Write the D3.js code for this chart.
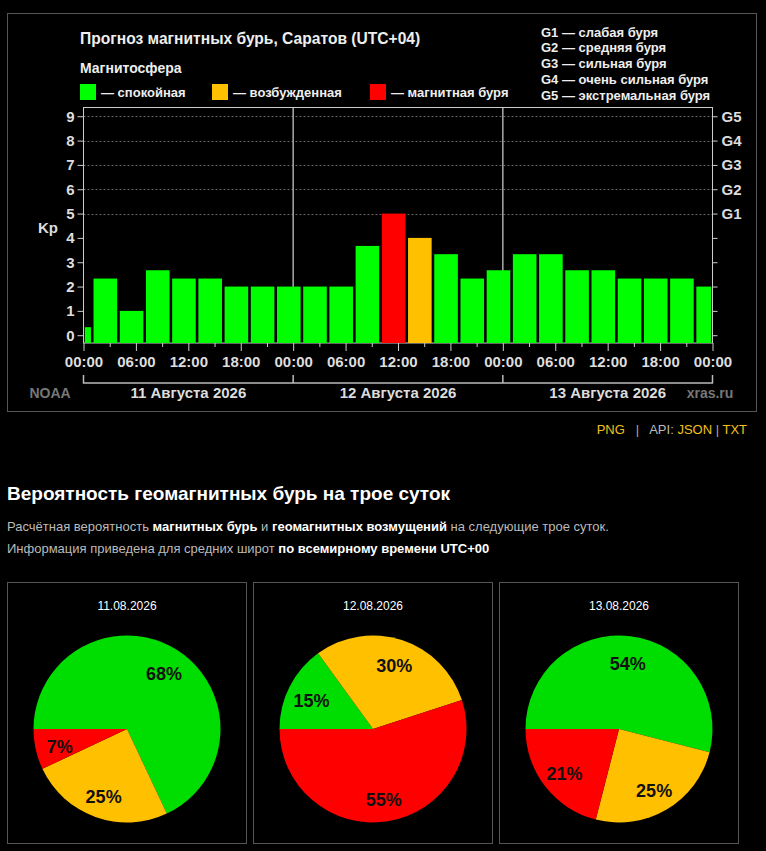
<!DOCTYPE html>
<html>
<head>
<meta charset="utf-8">
<script src="https://cdn.jsdelivr.net/npm/d3@7"></script>
<style>
  html, body { margin: 0; padding: 0; background: #000; }
  svg { display: block; }
</style>
</head>
<body>
<div id="page"></div>
<script>
// Прогноз Kp по трёхчасовым интервалам (местное время UTC+04)
const barStarts = [
    "2026-08-10 22:00",
    "2026-08-11 01:00", "2026-08-11 04:00", "2026-08-11 07:00", "2026-08-11 10:00",
    "2026-08-11 13:00", "2026-08-11 16:00", "2026-08-11 19:00", "2026-08-11 22:00",
    "2026-08-12 01:00", "2026-08-12 04:00", "2026-08-12 07:00", "2026-08-12 10:00",
    "2026-08-12 13:00", "2026-08-12 16:00", "2026-08-12 19:00", "2026-08-12 22:00",
    "2026-08-13 01:00", "2026-08-13 04:00", "2026-08-13 07:00", "2026-08-13 10:00",
    "2026-08-13 13:00", "2026-08-13 16:00", "2026-08-13 19:00", "2026-08-13 22:00"
];
const kpValues = [
    0.33,
    2.33, 1, 2.67, 2.33, 2.33, 2, 2, 2,
    2, 2, 3.67, 5, 4, 3.33, 2.33, 2.67,
    3.33, 3.33, 2.67, 2.67, 2.33, 2.33, 2.33, 2
];
const dayStarts = ["2026-08-11 00:00", "2026-08-12 00:00", "2026-08-13 00:00", "2026-08-14 00:00"];
const dayLabels = ["11 Августа 2026", "12 Августа 2026", "13 Августа 2026"];
const kpTicks = [0, 1, 2, 3, 4, 5, 6, 7, 8, 9];
const gLevels = [5, 6, 7, 8, 9];
const gLabels = ["G1", "G2", "G3", "G4", "G5"];
const gDescriptions = [
    "G1 — слабая буря",
    "G2 — средняя буря",
    "G3 — сильная буря",
    "G4 — очень сильная буря",
    "G5 — экстремальная буря"
];
const legendLabels = ["— спокойная", "— возбужденная", "— магнитная буря"];

// Вероятности на трое суток (UTC+00)
const pieDates = ["11.08.2026", "12.08.2026", "13.08.2026"];
const pieCategories = ["спокойная", "возбужденная", "магнитная буря"];
const quietProb = [68, 15, 54];
const activeProb = [25, 30, 25];
const stormProb = [7, 55, 21];

const barColors = ["#00ff00", "#ffc000", "#ff0000"];
const pieColors = ["#00dd00", "#ffc000", "#ff0000"];
const chartFont = "'Liberation Sans', Arial, sans-serif";

const W = 766, H = 851;
const svg = d3.select("#page").append("svg")
    .attr("width", W)
    .attr("height", H)
    .style("background", "#000");

// ---------- Картинка прогноза ----------
svg.append("rect")
    .attr("x", 7.5).attr("y", 13.5)
    .attr("width", 749).attr("height", 398)
    .attr("fill", "#000")
    .attr("stroke", "#555");

const parseTime = d3.utcParse("%Y-%m-%d %H:%M");
const days = dayStarts.map(parseTime);
const bars = barStarts.map((s, i) => ({ start: parseTime(s), kp: kpValues[i] }));

const plot = { left: 83.5, right: 712.5, top: 107.5, bottom: 343 };

const x = d3.scaleTime()
    .domain([days[0], days[days.length - 1]])
    .range([plot.left, plot.right]);

const y = d3.scaleLinear()
    .domain([-0.32, 9.36])
    .range([plot.bottom, plot.top]);

const kpColor = d3.scaleThreshold()
    .domain([4, 5])
    .range(barColors);

// Заголовок и легенда
svg.append("text")
    .attr("x", 80).attr("y", 43.5)
    .style("font-family", chartFont)
    .style("font-size", "15.6px")
    .style("font-weight", "bold")
    .attr("fill", "#eee")
    .text("Прогноз магнитных бурь, Саратов (UTC+04)");

svg.append("text")
    .attr("x", 80).attr("y", 73)
    .style("font-family", chartFont)
    .style("font-size", "14px")
    .style("font-weight", "bold")
    .attr("fill", "#eee")
    .text("Магнитосфера");

const legendX = [80, 212, 370];
const legend = svg.selectAll("g.legend")
    .data(legendLabels)
    .enter()
    .append("g")
    .attr("class", "legend")
    .attr("transform", (d, i) => `translate(${legendX[i]},84)`);

legend.append("rect")
    .attr("width", 16).attr("height", 16)
    .attr("fill", (d, i) => barColors[i]);

legend.append("text")
    .attr("x", 21).attr("y", 13)
    .style("font-family", chartFont)
    .style("font-size", "13px")
    .style("font-weight", "bold")
    .attr("fill", "#eee")
    .text(d => d);

svg.selectAll("text.gdesc")
    .data(gDescriptions)
    .enter()
    .append("text")
    .attr("class", "gdesc")
    .attr("x", 541)
    .attr("y", (d, i) => 36.5 + i * 15.75)
    .style("font-family", chartFont)
    .style("font-size", "13px")
    .style("font-weight", "bold")
    .attr("fill", "#eee")
    .text(d => d);

// Сетка для уровней бурь
svg.append("g")
    .selectAll("line")
    .data(gLevels)
    .enter()
    .append("line")
    .attr("x1", plot.left).attr("x2", plot.right)
    .attr("y1", d => Math.round(y(d)) + 0.5)
    .attr("y2", d => Math.round(y(d)) + 0.5)
    .attr("stroke", "#666")
    .attr("stroke-dasharray", "2,2");

// Разделители суток
svg.append("g")
    .selectAll("line")
    .data(days.slice(1, -1))
    .enter()
    .append("line")
    .attr("x1", d => x(d)).attr("x2", d => x(d))
    .attr("y1", plot.top).attr("y2", plot.bottom)
    .attr("stroke", "#aaa")
    .attr("stroke-width", 1.5);

// Рамка области графика
svg.append("rect")
    .attr("x", plot.left).attr("y", plot.top)
    .attr("width", plot.right - plot.left)
    .attr("height", plot.bottom - plot.top)
    .attr("fill", "none")
    .attr("stroke", "#ccc");

// Столбцы Kp
const threeHours = 3 * 3600 * 1000;
svg.append("g")
    .selectAll("rect")
    .data(bars)
    .enter()
    .append("rect")
    .attr("x", d => x(d3.max([d.start, days[0]])) + 1.3)
    .attr("width", d => {
        const end = new Date(Math.min(+d.start + threeHours, +days[days.length - 1]));
        return x(end) - x(d3.max([d.start, days[0]])) - 2.6;
    })
    .attr("y", d => y(d.kp))
    .attr("height", d => plot.bottom - y(d.kp))
    .attr("fill", d => kpColor(d.kp));

// Оси
const leftAxis = svg.append("g")
    .attr("transform", `translate(${plot.left},0)`)
    .call(d3.axisLeft(y).tickValues(kpTicks).tickSize(6).tickPadding(3));

const rightAxis = svg.append("g")
    .attr("transform", `translate(${plot.right},0)`)
    .call(d3.axisRight(y).tickValues(kpTicks).tickSize(5).tickPadding(4)
        .tickFormat(d => {
            const i = gLevels.indexOf(d);
            return i >= 0 ? gLabels[i] : "";
        }));

const bottomAxis = svg.append("g")
    .attr("transform", `translate(0,${plot.bottom})`)
    .call(d3.axisBottom(x)
        .ticks(d3.utcHour.every(3))
        .tickSize(4)
        .tickFormat(d => d.getUTCHours() % 6 === 0 ? d3.utcFormat("%H:%M")(d) : ""));

bottomAxis.selectAll(".tick")
    .filter(d => d.getUTCHours() % 6 === 0)
    .select("line")
    .attr("y2", 8);
bottomAxis.selectAll(".tick text").attr("y", 13);

[leftAxis, rightAxis, bottomAxis].forEach(g => {
    g.select(".domain").remove();
    g.selectAll(".tick line").attr("stroke", "#ccc");
    g.selectAll(".tick text")
        .attr("fill", "#ddd")
        .style("font-family", chartFont)
        .style("font-size", "15px")
        .style("font-weight", "bold");
});

// Подпись оси Kp
svg.append("text")
    .attr("x", 38).attr("y", 232.5)
    .style("font-family", chartFont)
    .style("font-size", "15px")
    .style("font-weight", "bold")
    .attr("fill", "#ddd")
    .text("Kp");

// Скобка дней и даты
const bracketY = 383;
svg.append("path")
    .attr("d", `M${x(days[0])},${bracketY - 8}V${bracketY}H${x(days[3])}V${bracketY - 8}`)
    .attr("fill", "none")
    .attr("stroke", "#bbb")
    .attr("stroke-width", 1.5);

svg.append("g")
    .selectAll("line")
    .data(days.slice(1, -1))
    .enter()
    .append("line")
    .attr("x1", d => x(d)).attr("x2", d => x(d))
    .attr("y1", bracketY - 8).attr("y2", bracketY)
    .attr("stroke", "#bbb")
    .attr("stroke-width", 1.5);

svg.selectAll("text.day")
    .data(dayLabels)
    .enter()
    .append("text")
    .attr("class", "day")
    .attr("x", (d, i) => (x(days[i]) + x(days[i + 1])) / 2)
    .attr("y", 397.5)
    .attr("text-anchor", "middle")
    .style("font-family", chartFont)
    .style("font-size", "15px")
    .style("font-weight", "bold")
    .attr("fill", "#ddd")
    .text(d => d);

svg.append("text")
    .attr("x", 50).attr("y", 397.5)
    .attr("text-anchor", "middle")
    .style("font-family", chartFont)
    .style("font-size", "14px")
    .style("font-weight", "bold")
    .attr("fill", "#777")
    .text("NOAA");

svg.append("text")
    .attr("x", 710).attr("y", 397.5)
    .attr("text-anchor", "middle")
    .style("font-family", chartFont)
    .style("font-size", "14px")
    .style("font-weight", "bold")
    .attr("fill", "#777")
    .text("xras.ru");

// ---------- Ссылки и описание ----------
const links = svg.append("text")
    .attr("x", 747).attr("y", 434)
    .attr("text-anchor", "end")
    .attr("xml:space", "preserve")
    .style("font-family", chartFont)
    .style("font-size", "13px");
links.append("tspan").attr("fill", "#f2c01e").text("PNG");
links.append("tspan").attr("fill", "#aaa").text("   |   ");
links.append("tspan").attr("fill", "#bbb").text("API: ");
links.append("tspan").attr("fill", "#f2c01e").text("JSON");
links.append("tspan").attr("fill", "#aaa").text(" | ");
links.append("tspan").attr("fill", "#f2c01e").text("TXT");

svg.append("text")
    .attr("x", 7).attr("y", 500)
    .style("font-family", chartFont)
    .style("font-size", "19px")
    .style("font-weight", "bold")
    .attr("fill", "#fff")
    .text("Вероятность геомагнитных бурь на трое суток");

const para1 = svg.append("text")
    .attr("x", 7).attr("y", 530.5)
    .attr("xml:space", "preserve")
    .style("font-family", chartFont)
    .style("font-size", "13px")
    .attr("fill", "#bbb");
para1.append("tspan").text("Расчётная вероятность ");
para1.append("tspan").attr("fill", "#fff").style("font-weight", "bold").text("магнитных бурь");
para1.append("tspan").text(" и ");
para1.append("tspan").attr("fill", "#fff").style("font-weight", "bold").text("геомагнитных возмущений");
para1.append("tspan").text(" на следующие трое суток.");

const para2 = svg.append("text")
    .attr("x", 7).attr("y", 552.5)
    .attr("xml:space", "preserve")
    .style("font-family", chartFont)
    .style("font-size", "13px")
    .attr("fill", "#bbb");
para2.append("tspan").text("Информация приведена для средних широт ");
para2.append("tspan").attr("fill", "#fff").style("font-weight", "bold").text("по всемирному времени UTC+00");

// ---------- Круговые диаграммы ----------
const pieData = pieDates.map((date, i) => ({
    date: date,
    values: [quietProb[i], activeProb[i], stormProb[i]]
}));

const pie = d3.pie()
    .sort(null)
    .startAngle(-Math.PI / 2)
    .endAngle(Math.PI * 1.5);

const radius = 93.5;
const arc = d3.arc().innerRadius(0).outerRadius(radius);
const labelArc = d3.arc().innerRadius(69).outerRadius(69);

const boxX = [7.5, 253.5, 499.5];
const boxes = svg.selectAll("g.piebox")
    .data(pieData)
    .enter()
    .append("g")
    .attr("class", "piebox")
    .attr("transform", (d, i) => `translate(${boxX[i]},582.5)`);

boxes.append("rect")
    .attr("width", 239).attr("height", 261)
    .attr("fill", "#000")
    .attr("stroke", "#555");

boxes.append("text")
    .attr("x", 119.5).attr("y", 27)
    .attr("text-anchor", "middle")
    .style("font-family", chartFont)
    .style("font-size", "12px")
    .attr("fill", "#fff")
    .text(d => d.date);

const pies = boxes.append("g")
    .attr("transform", "translate(119.5,146.5)");

pies.selectAll("path")
    .data(d => pie(d.values))
    .enter()
    .append("path")
    .attr("d", arc)
    .attr("fill", (d, i) => pieColors[i]);

pies.selectAll("text")
    .data(d => pie(d.values))
    .enter()
    .append("text")
    .attr("transform", d => `translate(${labelArc.centroid(d)})`)
    .attr("dy", "0.5em")
    .attr("text-anchor", "middle")
    .style("font-family", chartFont)
    .style("font-size", "18px")
    .style("font-weight", "bold")
    .attr("fill", "#111")
    .text(d => d.data + "%");
</script>
</body>
</html>
